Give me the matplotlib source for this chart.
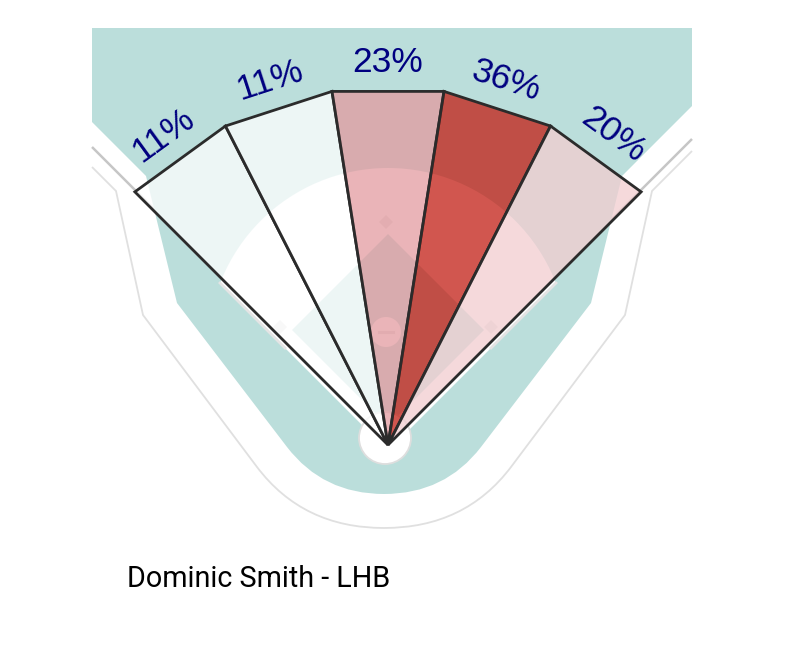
import numpy as np
import matplotlib
matplotlib.use('Agg')
import matplotlib.pyplot as plt
from matplotlib.path import Path
from matplotlib.patches import PathPatch, Polygon, Circle
from matplotlib.colors import LinearSegmentedColormap

# spray zones (degrees from straightaway centre field) and share of batted balls
zone_edges = [-45, -27, -9, 9, 27, 45]
zone_pct = [11, 11, 23, 36, 20]
player = 'Dominic Smith - LHB'

# white -> red scale used for the zones
zone_cmap = LinearSegmentedColormap.from_list(
    'spray', [(0.0, '#ffffff'), (0.36, '#f2cdd0'), (0.48, '#e39a9f'), (1.0, '#c21e14')])

TEAL = '#bbdedb'
home = (388, 445)
zone_r = 358
label_r = 383

fig = plt.figure(figsize=(8.12, 6.60), dpi=100)
ax = fig.add_axes([0, 0, 1, 1])
ax.set_xlim(0, 812)
ax.set_ylim(660, 0)
ax.axis('off')

# --- ballpark background (pixel space) ---
cx = 384
def mirror(pts):
    return [(2 * cx - x, y) for x, y in reversed(pts)]

# outer stadium outline
left_out = [(116, 191), (143, 315), (257, 467)]
verts = [(92, 167)] + left_out + [(303, 528), (cx, 528), (465, 528)] + mirror(left_out) + [(692, 151)]
codes = [Path.MOVETO] + [Path.LINETO] * 3 + [Path.CURVE3] * 4 + [Path.LINETO] * 3
ax.add_patch(PathPatch(Path(verts, codes), fill=False, ec='#e0e0e0', lw=1.3, zorder=1))

# foul lines beyond the wall
ax.plot([92, 388], [147, 443], color='#c6c6c6', lw=1.8, zorder=1, solid_capstyle='butt')
ax.plot([692, 388], [139, 443], color='#c6c6c6', lw=1.8, zorder=1, solid_capstyle='butt')

# field (teal)
left_f = [(146, 176), (177, 303), (287, 447)]
verts = ([(92, 28), (92, 122)] + left_f + [(323, 494), (cx, 494), (445, 494)]
         + mirror(left_f) + [(692, 106), (692, 28), (92, 28)])
codes = [Path.MOVETO] + [Path.LINETO] * 4 + [Path.CURVE3] * 4 + [Path.LINETO] * 4 + [Path.CLOSEPOLY]
ax.add_patch(PathPatch(Path(verts, codes), fc=TEAL, ec='none', zorder=2))

# infield dirt: circle clipped to the fair wedge
wedge = Polygon([(388, 451), (-12, 51), (788, 51)], closed=True, transform=ax.transData)
dirt = Circle((388, 348), 180, fc='white', ec='none', zorder=3)
ax.add_patch(dirt)
dirt.set_clip_path(wedge)
ax.plot([220, 285], [283, 348], color='#e4e4e4', lw=2, zorder=3.5)
ax.plot([556, 491], [283, 348], color='#e4e4e4', lw=2, zorder=3.5)

# infield grass
ax.add_patch(Polygon([(388, 234), (292, 330), (388, 426), (484, 330)],
                     closed=True, fc=TEAL, ec='none', zorder=4, joinstyle='round'))

# bases and mound
for bx, by in [(280, 327), (386, 222), (491, 327)]:
    ax.add_patch(Polygon([(bx, by - 7), (bx + 7, by), (bx, by + 7), (bx - 7, by)],
                         closed=True, fc='#e6e6e6', ec='none', zorder=5))
ax.add_patch(Circle((386, 332), 15, fc='white', ec='none', zorder=5))
ax.plot([379, 393], [332, 332], color='#e2e2e2', lw=2.2, zorder=5.5)
ax.add_patch(Circle((385, 438), 26, fc='white', ec='#dedede', lw=1.3, zorder=5))

# --- spray zones ---
lo, hi = min(zone_pct), max(zone_pct)
for i, pct in enumerate(zone_pct):
    a0, a1 = np.radians(zone_edges[i]), np.radians(zone_edges[i + 1])
    pts = [home,
           (home[0] + zone_r * np.sin(a0), home[1] - zone_r * np.cos(a0)),
           (home[0] + zone_r * np.sin(a1), home[1] - zone_r * np.cos(a1))]
    rgba = list(zone_cmap((pct - lo) / (hi - lo)))
    rgba[3] = 0.75
    ax.add_patch(Polygon(pts, closed=True, fc=rgba, ec='#2b2b2b', lw=2.0,
                         joinstyle='miter', zorder=10))
    mid = (zone_edges[i] + zone_edges[i + 1]) / 2
    m = np.radians(mid)
    ax.text(home[0] + label_r * np.sin(m), home[1] - label_r * np.cos(m), f'{pct}%',
            rotation=-mid, rotation_mode='anchor', ha='center', va='center',
            fontsize=25.5, family='Liberation Sans', color='#000080', zorder=11)

ax.text(127, 587, player, fontsize=20.7, family='Roboto', color='black',
        ha='left', va='baseline')

fig.savefig('out.png', dpi=100)
